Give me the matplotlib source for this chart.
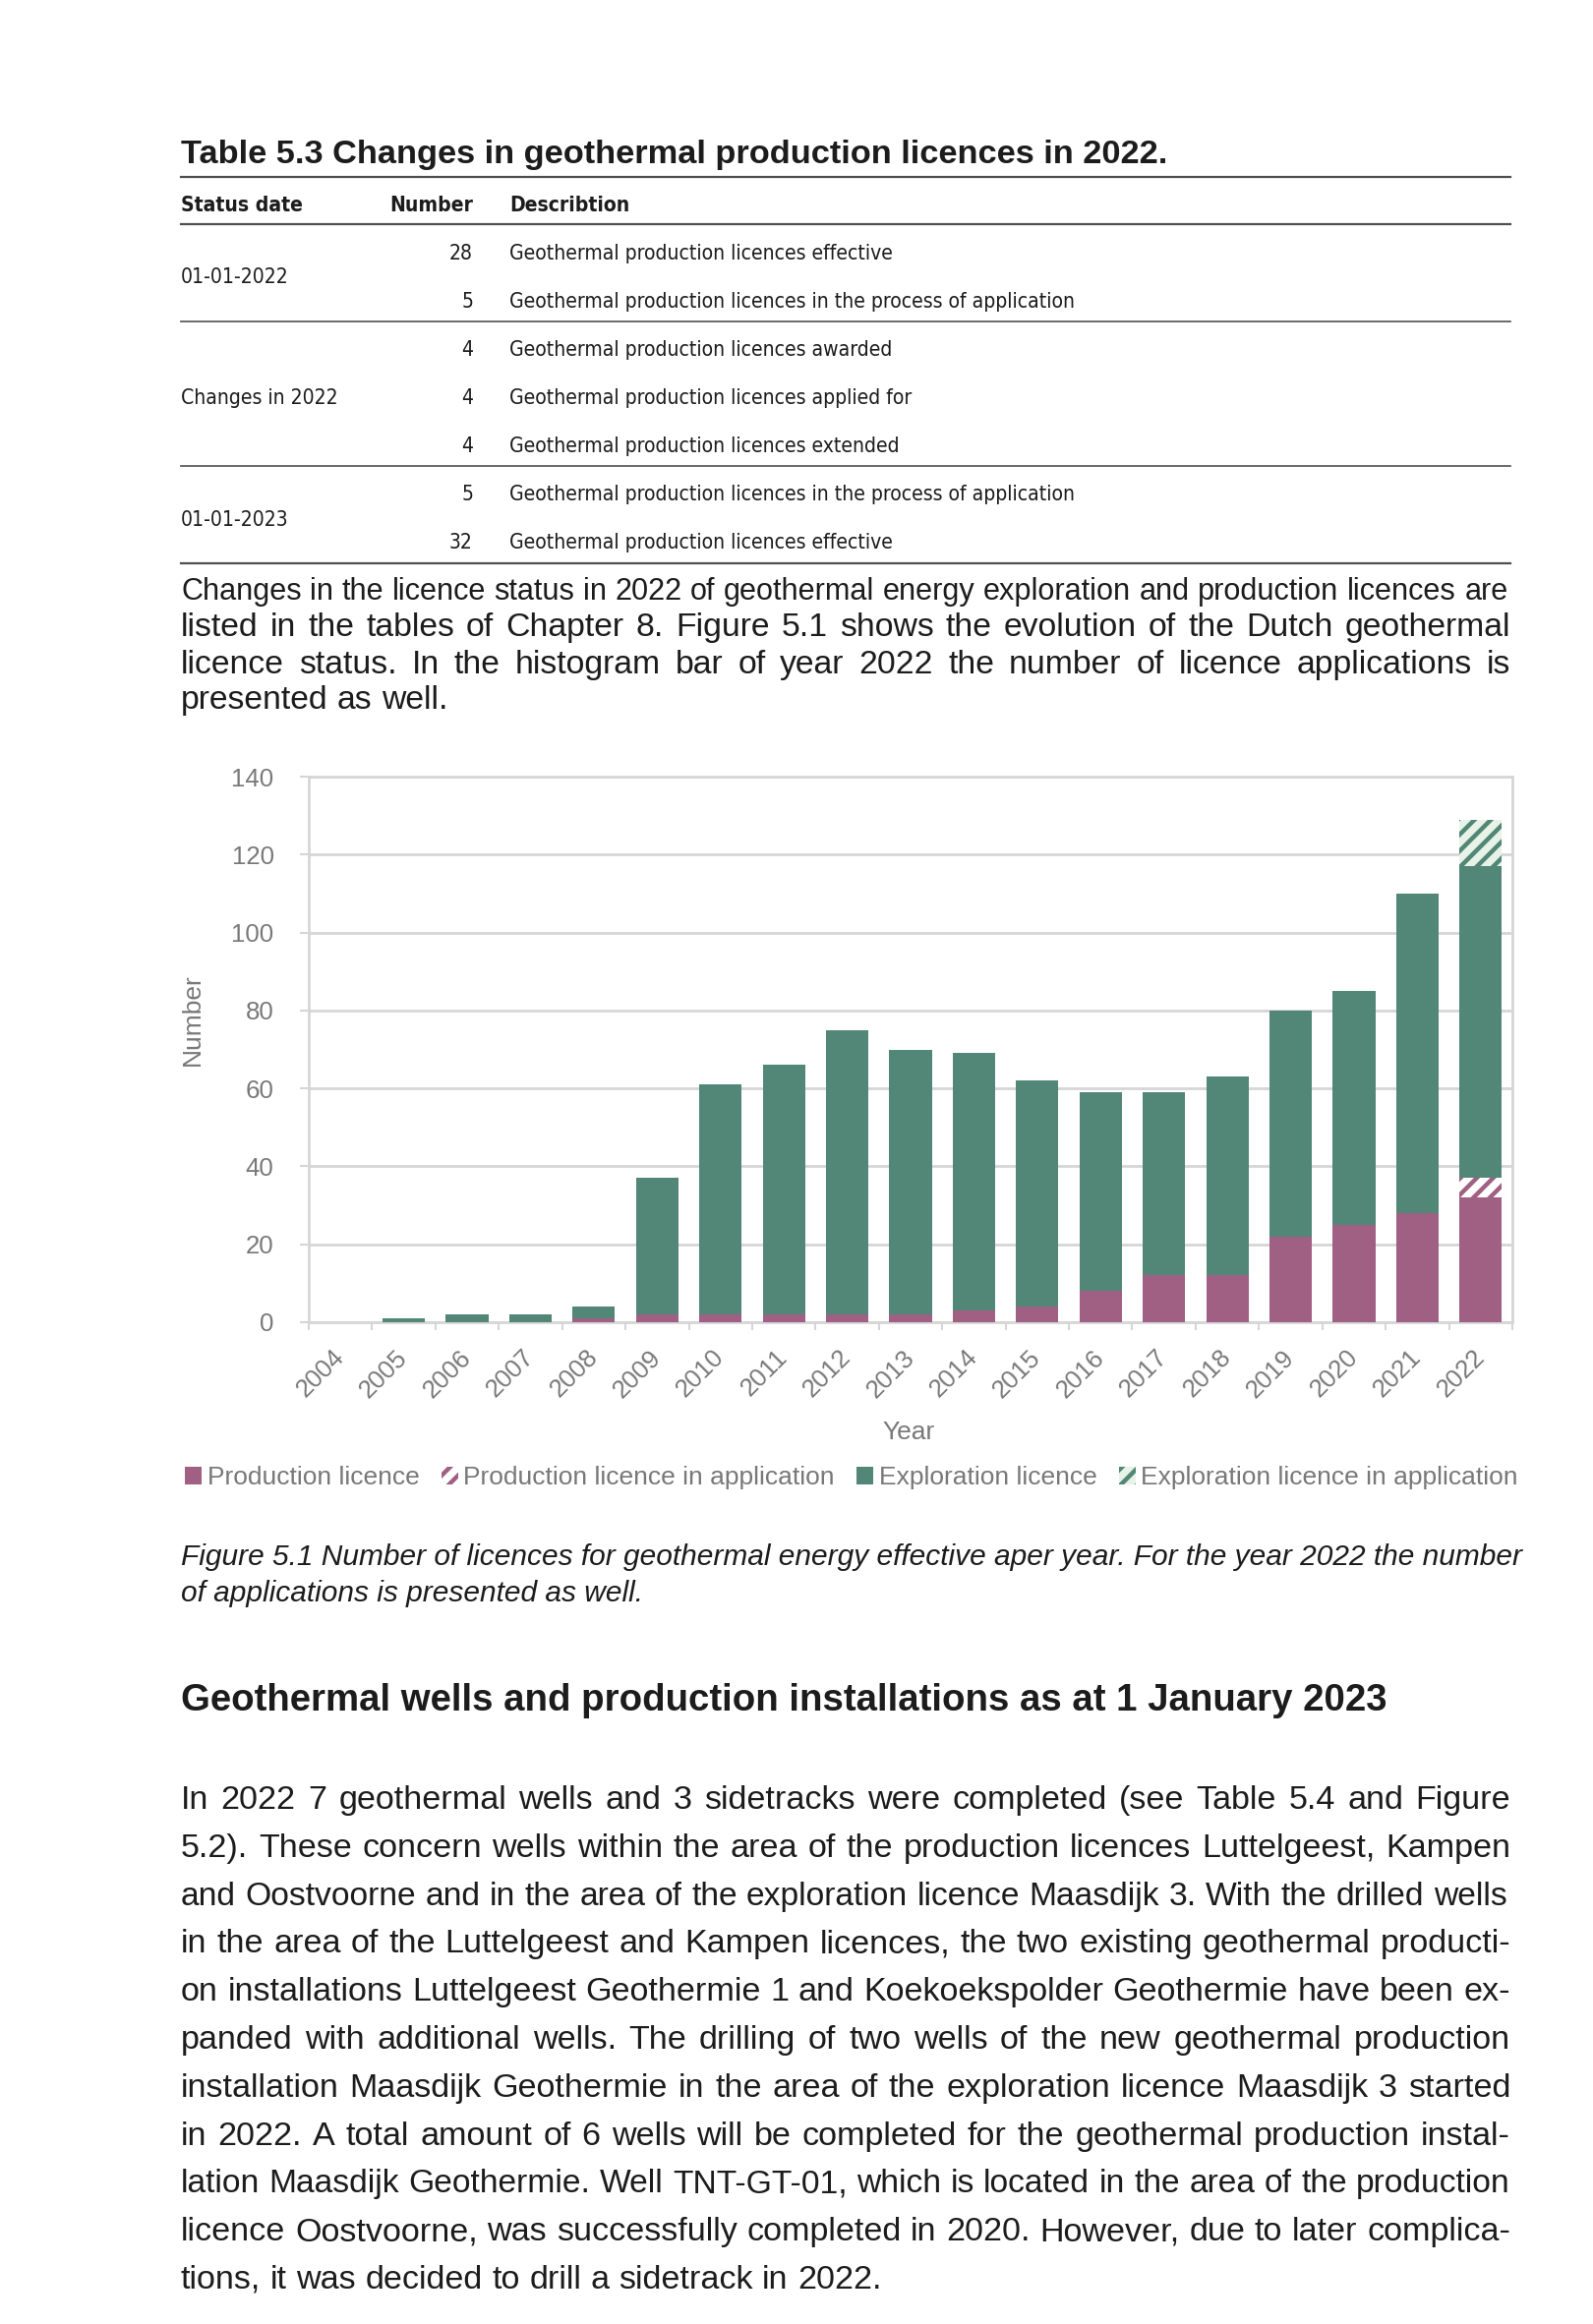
import matplotlib
matplotlib.use('Agg')
import matplotlib.pyplot as plt
from matplotlib import font_manager as fm
from matplotlib.patches import Patch
import numpy as np

# chart data
years = [str(y) for y in range(2004, 2023)]
production = [0, 0, 0, 0, 1, 2, 2, 2, 2, 2, 3, 4, 8, 12, 12, 22, 25, 28, 32]
production_appl = [0] * 18 + [5]
exploration = [0, 1, 2, 2, 3, 35, 59, 64, 73, 68, 66, 58, 51, 47, 51, 58, 60, 82, 80]
exploration_appl = [0] * 18 + [12]

# table 5.3
tab_dates = ['01-01-2022', 'Changes in 2022', '01-01-2023']
tab_numbers = ['28', '5', '4', '4', '4', '5', '32']
tab_desc = ['Geothermal production licences effective',
            'Geothermal production licences in the process of application',
            'Geothermal production licences awarded',
            'Geothermal production licences applied for',
            'Geothermal production licences extended',
            'Geothermal production licences in the process of application',
            'Geothermal production licences effective']

para1 = ['Changes in the licence status in 2022 of geothermal energy exploration and production licences are',
         'listed in the tables of Chapter 8. Figure 5.1 shows the evolution of the Dutch geothermal',
         'licence status. In the histogram bar of year 2022 the number of licence applications is',
         'presented as well.']
caption = ['Figure 5.1 Number of licences for geothermal energy effective aper year. For the year 2022 the number',
           'of applications is presented as well.']
heading = 'Geothermal wells and production installations as at 1 January 2023'
para2 = ['In 2022 7 geothermal wells and 3 sidetracks were completed (see Table 5.4 and Figure',
         '5.2). These concern wells within the area of the production licences Luttelgeest, Kampen',
         'and Oostvoorne and in the area of the exploration licence Maasdijk 3. With the drilled wells',
         'in the area of the Luttelgeest and Kampen licences, the two existing geothermal producti-',
         'on installations Luttelgeest Geothermie 1 and Koekoekspolder Geothermie have been ex-',
         'panded with additional wells. The drilling of two wells of the new geothermal production',
         'installation Maasdijk Geothermie in the area of the exploration licence Maasdijk 3 started',
         'in 2022. A total amount of 6 wells will be completed for the geothermal production instal-',
         'lation Maasdijk Geothermie. Well TNT-GT-01, which is located in the area of the production',
         'licence Oostvoorne, was successfully completed in 2020. However, due to later complica-',
         'tions, it was decided to drill a sidetrack in 2022.']

W, H = 1620, 2364
PURPLE = '#a06083'
GREEN = '#528676'
GREY = '#787878'
TXT = '#1c1c1c'
body = ['Liberation Sans', 'DejaVu Sans']


def narrow_font(bold):
    # look for a condensed face for the table
    best = None
    for f in fm.fontManager.ttflist:
        nm = f.name
        st = str(f.stretch)
        isnarrow = 'Narrow' in nm or 'Condensed' in nm or st in ('condensed', 'semi-condensed', '75', '87')
        if not isnarrow or f.style != 'normal' or 'extra' in st or 'ultra' in st:
            continue
        wt = f.weight if isinstance(f.weight, int) else fm.weight_dict.get(f.weight, 400)
        if (wt >= 600) != bold or wt in (100, 200, 300, 500) and not bold:
            continue
        rank = 0 if 'Liberation' in nm else (1 if 'DejaVu' in nm else 2)
        if best is None or rank < best[0]:
            best = (rank, f.fname)
    if best:
        return fm.FontProperties(fname=best[1])
    return fm.FontProperties(family=['Roboto', 'Liberation Sans'], weight='bold' if bold else 'normal')


fp_n = narrow_font(False)
fp_nb = narrow_font(True)

fig = plt.figure(figsize=(W / 100, H / 100), dpi=100)
bg = fig.add_axes([0, 0, 1, 1])
bg.set_xlim(0, W)
bg.set_ylim(H, 0)
bg.axis('off')
rend = fig.canvas.get_renderer()

L, R = 184, 1536


def width_of(s, **kw):
    t = bg.text(0, 0, s, **kw)
    w = t.get_window_extent(rend).width
    t.remove()
    return w


def fit(s, target, **kw):
    return 10 * target / width_of(s, size=10, **kw)


def fpsize(fp, size):
    f = fp.copy()
    f.set_size(size)
    return f


def justify(line, y, size, last=False, **kw):
    words = line.split(' ')
    sp = width_of('a a', size=size, **kw) - width_of('aa', size=size, **kw)
    ws = [width_of(w, size=size, **kw) for w in words]
    if sum(ws) + sp * (len(words) - 1) > R - L:
        size = size * (R - L) / (sum(ws) + sp * (len(words) - 1))
        return justify(line, y, size, last=True, **kw)
    gap = sp if last else (R - L - sum(ws)) / (len(words) - 1)
    x = L
    for w, wd in zip(words, ws):
        bg.text(x, y, w, size=size, va='baseline', ha='left', color=TXT, **kw)
        x += wd + gap


# table
s_title = fit('Table 5.3 Changes in geothermal production licences in 2022.', 1005, weight='bold', family=body)
bg.text(L, 166, 'Table 5.3 Changes in geothermal production licences in 2022.', size=s_title,
        weight='bold', family=body, color=TXT, va='baseline')
for yy, lw in [(180, 1.6), (228, 1.6), (327, 1.2), (474, 1.2), (573, 1.6)]:
    bg.plot([L, R], [yy, yy], color='#505050', lw=lw)

s_tab = fit(tab_desc[1], 575, fontproperties=fpsize(fp_n, 10))
fn = fpsize(fp_n, s_tab)
fb = fpsize(fp_nb, s_tab)
bg.text(L, 215, 'Status date', fontproperties=fb, color=TXT, va='baseline')
bg.text(481, 215, 'Number', fontproperties=fb, color=TXT, va='baseline', ha='right')
bg.text(518, 215, 'Describtion', fontproperties=fb, color=TXT, va='baseline')
row_y = [264, 313, 362, 411, 460, 509, 558]
for yy, n, d in zip(row_y, tab_numbers, tab_desc):
    bg.text(481, yy, n, fontproperties=fn, color=TXT, va='baseline', ha='right')
    bg.text(518, yy, d, fontproperties=fn, color=TXT, va='baseline')
for yy, d in zip([288, 411, 535], tab_dates):
    bg.text(L, yy, d, fontproperties=fn, color=TXT, va='baseline')

# paragraph above the chart
s_body1 = fit(para1[-1], 272, family=body)
for i, (line, yy) in enumerate(zip(para1, [610, 647, 685, 721])):
    justify(line, yy, s_body1, last=(i == len(para1) - 1), family=body)

# chart
s_ch = fit('Production licence', 217, family=body)
ax = fig.add_axes([314 / W, 1 - 1345 / H, 1224 / W, 555 / H])
x = np.arange(len(years))
bw = 0.67
b0 = np.array(production)
b1 = b0 + np.array(production_appl)
b2 = b1 + np.array(exploration)
plt.rcParams['hatch.linewidth'] = 3.2
ax.bar(x, production, bw, color=PURPLE, lw=0, zorder=3)
ax.bar(x, production_appl, bw, bottom=b0, facecolor='white', edgecolor=PURPLE, hatch='//', lw=0, zorder=3)
ax.bar(x, exploration, bw, bottom=b1, color=GREEN, lw=0, zorder=3)
ax.bar(x, exploration_appl, bw, bottom=b2, facecolor='#e8f3e8', edgecolor=GREEN, hatch='//', lw=0, zorder=3)

ax.set_xlim(-0.5, len(years) - 0.5)
ax.set_ylim(0, 140)
ax.set_yticks(range(0, 141, 20))
ax.yaxis.grid(True, color='#d6d6d6', lw=2)
ax.set_axisbelow(True)
for s in ax.spines.values():
    s.set_color('#d6d6d6')
    s.set_linewidth(2)
s_tick = fit('140', 43, family=body)
ax.tick_params(axis='y', length=6.5, width=1.5, color='#d6d6d6', pad=19, labelsize=s_tick, labelcolor=GREY)
ax.set_xticks(x)
ax.set_xticklabels(years, rotation=45, ha='right', rotation_mode='anchor', va='center')
ax.set_xticks(np.arange(-0.5, len(years)), minor=True)
ax.tick_params(axis='x', which='major', length=0, pad=23, labelsize=s_tick, labelcolor=GREY)
ax.tick_params(axis='x', which='minor', length=6, width=1.5, color='#d6d6d6')
for lab in ax.get_xticklabels() + ax.get_yticklabels():
    lab.set_family(body)

bg.text(196, 1037, 'Number', rotation=90, size=s_ch, color=GREY, va='center', ha='center', family=body)
bg.text(924, 1464, 'Year', size=s_ch, color=GREY, va='baseline', ha='center', family=body)

handles = [Patch(facecolor=PURPLE, lw=0),
           Patch(facecolor='white', edgecolor=PURPLE, hatch='//', lw=0),
           Patch(facecolor=GREEN, lw=0),
           Patch(facecolor='#e8f3e8', edgecolor=GREEN, hatch='//', lw=0)]
labels = ['Production licence', 'Production licence in application',
          'Exploration licence', 'Exploration licence in application']
leg = fig.legend(handles, labels, loc='center', bbox_to_anchor=(866 / W, 1 - 1503 / H), ncol=4,
                 frameon=False, handlelength=0.65, handleheight=0.65, handletextpad=0.2,
                 columnspacing=0.85, borderpad=0, prop={'family': body, 'size': s_ch})
for t in leg.get_texts():
    t.set_color(GREY)

# caption and heading
s_cap = fit(caption[1], 472, style='italic', family=body)
bg.text(L, 1592, caption[0], size=s_cap, style='italic', family=body, color=TXT, va='baseline')
bg.text(L, 1629, caption[1], size=s_cap, style='italic', family=body, color=TXT, va='baseline')

s_head = fit(heading, 1226, weight='bold', family=body)
bg.text(L, 1740, heading, size=s_head, weight='bold', family=body, color=TXT, va='baseline')

s_body2 = fit(para2[-1], 716, family=body)
for i, line in enumerate(para2):
    justify(line, 1840 + 48.8 * i, s_body2, last=(i == len(para2) - 1), family=body)

fig.savefig('out.png', dpi=100, facecolor='white')
